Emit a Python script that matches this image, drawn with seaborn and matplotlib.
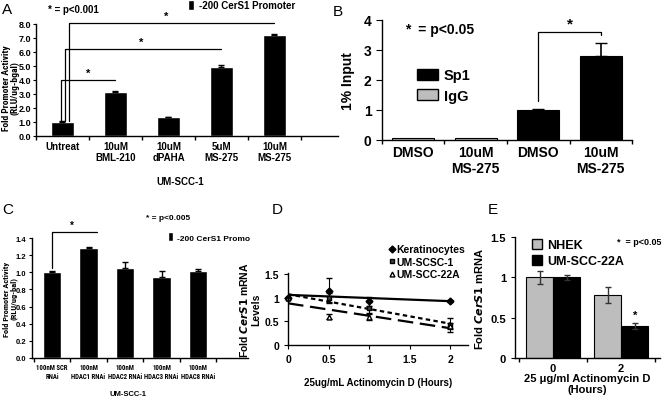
import numpy as np
import pandas as pd
import matplotlib
matplotlib.use("Agg")
import matplotlib.pyplot as plt
from matplotlib import font_manager
from matplotlib.lines import Line2D
from matplotlib.patches import Patch
from matplotlib.transforms import Bbox, TransformedBbox
import seaborn as sns

# ---- data ----
# A: promoter activity after HDAC inhibitors
a_labels = ["Untreat", "10uM\nBML-210", "10uM\ndPAHA", "5uM\nMS-275", "10uM\nMS-275"]
a_values = [1.0, 3.15, 1.35, 4.95, 7.25]
a_errors = [0.05, 0.05, 0.03, 0.12, 0.05]
a_sig = [(1, 4.0), (3, 6.2), (4, 8.07)]   # (compared bar, bracket height)

# B: ChIP, Sp1 vs IgG
b_keys = ["IgG DMSO", "IgG MS-275", "Sp1 DMSO", "Sp1 MS-275"]
b_labels = ["DMSO", "10uM\nMS-275", "DMSO", "10uM\nMS-275"]
b_antibody = ["IgG", "IgG", "Sp1", "Sp1"]
b_values = [0.07, 0.07, 1.0, 2.8]
b_errors = [0.0, 0.0, 0.04, 0.42]

# C: HDAC RNAi
c_labels = ["100nM SCR\nRNAi", "100nM\nHDAC1 RNAi", "100nM\nHDAC2 RNAi",
            "100nM\nHDAC3 RNAi", "100nM\nHDAC8 RNAi"]
c_values = [1.0, 1.28, 1.05, 0.95, 1.01]
c_errors = [0.02, 0.02, 0.07, 0.06, 0.03]

# D: mRNA decay after actinomycin D
d_hours = [0, 0.5, 1, 2]
d_kera = [1.0, 1.15, 0.92, 0.93]
d_kera_err = [0.0, 0.27, 0.1, 0.02]
d_scc1 = [1.0, 1.0, 0.78, 0.42]
d_scc1_err = [0.0, 0.1, 0.12, 0.15]
d_scc22a = [1.0, 0.6, 0.6, 0.4]
d_scc22a_err = [0.0, 0.06, 0.08, 0.07]

# E: NHEK vs UM-SCC-22A
e_hours = ["0", "2"]
e_nhek = [1.0, 0.78]
e_nhek_err = [0.08, 0.1]
e_scc22a = [1.0, 0.4]
e_scc22a_err = [0.03, 0.04]

# ---- style ----
sns.set_style("ticks")
plt.rcParams['font.family'] = ['Liberation Sans', 'DejaVu Sans']
plt.rcParams['font.weight'] = 'bold'
plt.rcParams['axes.labelweight'] = 'bold'
plt.rcParams['axes.edgecolor'] = 'black'
plt.rcParams['text.color'] = 'black'
plt.rcParams['axes.labelcolor'] = 'black'
plt.rcParams['xtick.color'] = 'black'
plt.rcParams['ytick.color'] = 'black'
plt.rcParams['axes.linewidth'] = 1.0
plt.rcParams['mathtext.default'] = 'bf'


def pick_narrow():
    # look for any condensed sans face that happens to be installed
    for fam in ['Liberation Sans Narrow', 'Roboto Condensed', 'Open Sans Condensed',
                'DejaVu Sans Condensed', 'Noto Sans Condensed']:
        try:
            font_manager.findfont(font_manager.FontProperties(family=fam),
                                  fallback_to_default=False)
            return dict(family=fam)
        except ValueError:
            pass
    for fam in ['DejaVu Sans', 'Roboto', 'Noto Sans', 'Open Sans']:
        props = font_manager.FontProperties(family=fam, stretch='condensed', weight='bold')
        try:
            path = font_manager.findfont(props, fallback_to_default=False)
        except ValueError:
            continue
        if 'ondensed' in path:
            return dict(family=fam, stretch='condensed')
    return None


narrow = pick_narrow()
if narrow:
    NARROW = narrow
    c_tick_size = 4.9
else:
    NARROW = dict(family=['Liberation Sans', 'DejaVu Sans'])
    c_tick_size = 4.6

W, H = 669, 402
fig = plt.figure(figsize=(W / 100, H / 100), dpi=100)


def place(l, t, r, b):
    return fig.add_axes([l / W, 1 - b / H, (r - l) / W, (b - t) / H])


def ftext(x, y, s, **kw):
    return fig.text(x / W, 1 - y / H, s, **kw)


def between_ticks(ax, n, size):
    ax.set_xticks(np.arange(n + 1) - 0.5, minor=True)
    ax.tick_params(axis='x', which='major', length=0, labelsize=size)
    ax.tick_params(axis='x', which='minor', length=3, width=1)


def bracket(ax, x0, x1, y0, y1, drop=None):
    xs = [x0, x0, x1]
    ys = [y0, y1, y1]
    if drop is not None:
        xs.append(x1)
        ys.append(drop)
    ax.plot(xs, ys, color='black', lw=0.9, clip_on=False)


# ---- A ----
axA = place(36, 25, 338, 137)
dfA = pd.DataFrame({"treatment": a_labels, "activity": a_values})
sns.barplot(data=dfA, x="treatment", y="activity", color="black", saturation=1,
            width=0.42, errorbar=None, ax=axA)
axA.errorbar(np.arange(len(a_values)), a_values, yerr=[np.zeros(len(a_errors)), a_errors],
             fmt='none', ecolor='black', capsize=2, elinewidth=1)
axA.set_xlim(-0.5, 5.2)
axA.set_ylim(0, 8)
axA.set_yticks(np.arange(0, 8.5, 1))
axA.set_yticklabels([f"{v:.1f}" for v in np.arange(0, 8.5, 1)])
axA.tick_params(axis='y', labelsize=6.5, length=2.5, pad=1)
between_ticks(axA, len(a_values), 7)
axA.set_ylabel("Fold Promoter Activity\n(RLU/ug-bgal)", fontsize=5.8 if not narrow else 6.8,
               linespacing=0.95, **NARROW)
axA.yaxis.set_label_coords(20 / W, 1 - 88 / H, transform=fig.transFigure)
axA.set_xlabel("")
sns.despine(ax=axA)
ftext(180, 182, "UM-SCC-1", fontsize=7, ha='center', va='center')
for k, (target, height) in enumerate(a_sig):
    x0 = -0.02 + 0.075 * k
    bracket(axA, x0, target, a_values[0] + 0.05, height)
    axA.text((x0 + target) / 2 - 0.05 * k, height + 0.15, "*", ha='center', va='bottom',
             fontsize=8)
axA.legend(handles=[Patch(facecolor='black')], labels=["-200 CerS1 Promoter"],
           loc='center left', bbox_to_anchor=(183 / W, 1 - 6 / H),
           bbox_transform=fig.transFigure, frameon=False, fontsize=7,
           handlelength=0.6, handleheight=1.3, handletextpad=0.5, borderpad=0)
ftext(48, 10, "* = p<0.001", fontsize=7, va='center')
ftext(2, 10, "A", fontsize=11, va='center', fontweight='normal')

# ---- B ----
axB = place(382, 21, 632, 141)
dfB = pd.DataFrame({"condition": b_keys, "antibody": b_antibody, "input": b_values})
sns.barplot(data=dfB, x="condition", y="input", hue="antibody",
            palette={"Sp1": "black", "IgG": "#bdbdbd"}, dodge=False, width=0.67,
            edgecolor='black', linewidth=0.8, saturation=1, errorbar=None,
            legend=False, ax=axB)
axB.errorbar([2, 3], b_values[2:], yerr=[[0, 0], b_errors[2:]], fmt='none',
             ecolor='black', capsize=4, elinewidth=1.2)
axB.set_xlim(-0.45, 3.5)
axB.set_ylim(0, 4)
axB.set_yticks([0, 1, 2, 3, 4])
axB.tick_params(axis='y', labelsize=10, length=4)
between_ticks(axB, len(b_values), 10)
axB.set_xticks(range(len(b_labels)))
axB.set_xticklabels(b_labels)
axB.set_ylabel("1% Input", fontsize=10, labelpad=6)
axB.set_xlabel("")
sns.despine(ax=axB)
bracket(axB, 2, 3, 1.3, 3.6, drop=3.5)
axB.text(2.5, 3.65, "*", ha='center', va='bottom', fontsize=11)
axB.legend(handles=[Patch(facecolor='black', edgecolor='black'),
                    Patch(facecolor='#bdbdbd', edgecolor='black')],
           labels=["Sp1", "IgG"], loc='upper left',
           bbox_to_anchor=(410 / W, 1 - 62 / H), bbox_transform=fig.transFigure,
           frameon=False, fontsize=10.5, handlelength=1.4, handleheight=0.8,
           handletextpad=0.4, labelspacing=0.45, borderpad=0)
ftext(405, 30, "*  = p<0.05", fontsize=10, va='center')
ftext(333, 12, "B", fontsize=11, va='center', fontweight='normal')

# ---- C ----
axC = place(32, 239, 248, 359)
dfC = pd.DataFrame({"rnai": c_labels, "activity": c_values})
sns.barplot(data=dfC, x="rnai", y="activity", color="black", saturation=1,
            width=0.5, errorbar=None, ax=axC)
axC.errorbar(np.arange(len(c_values)), c_values, yerr=[np.zeros(len(c_errors)), c_errors],
             fmt='none', ecolor='black', capsize=2, elinewidth=1)
axC.set_xlim(-0.55, 5.37)
axC.set_ylim(0, 1.4)
axC.set_yticks(np.arange(0, 1.45, 0.2))
axC.set_yticklabels([f"{v:.1f}" for v in np.arange(0, 1.45, 0.2)])
axC.tick_params(axis='y', labelsize=5.5, length=2.5, pad=1.5)
between_ticks(axC, len(c_values), c_tick_size)
for lab in axC.get_xticklabels():
    lab.set_family(NARROW['family'])
    if 'stretch' in NARROW:
        lab.set_stretch(NARROW['stretch'])
axC.set_ylabel("Fold Promoter Activity\n(RLU/ug-bal)", fontsize=6, linespacing=0.95,
               **NARROW)
axC.yaxis.set_label_coords(17 / W, 1 - 299 / H, transform=fig.transFigure)
axC.set_xlabel("")
sns.despine(ax=axC)
ftext(128, 395, "UM-SCC-1", fontsize=5.5, ha='center', va='center')
bracket(axC, 0, 1.23, c_values[0] + 0.05, 1.47)
axC.text(0.55, 1.5, "*", ha='center', va='bottom', fontsize=7)
ftext(146, 219, "* = p<0.005", fontsize=6, va='center')
clip = TransformedBbox(Bbox([[0, 0], [250 / W, 1]]), fig.transFigure)
axC.legend(handles=[Patch(facecolor='black')], labels=["-200 CerS1 Promoter"],
           loc='center left', bbox_to_anchor=(164 / W, 1 - 238 / H),
           bbox_transform=fig.transFigure, frameon=False, fontsize=6,
           handlelength=0.6, handleheight=1.3, handletextpad=0.5, borderpad=0)
for t in axC.get_legend().get_texts():
    t.set_clip_box(clip)
    t.set_clip_on(True)
ftext(2, 210, "C", fontsize=11, va='center', fontweight='normal')

# ---- D ----
axD = place(288, 274, 468, 346)
series_d = [
    ("Keratinocytes", d_kera, d_kera_err, 'D', 'black', '-'),
    ("UM-SCSC-1", d_scc1, d_scc1_err, 's', '#404040', (0, (2, 1.5))),
    ("UM-SCC-22A", d_scc22a, d_scc22a_err, '^', 'white', (0, (7, 3))),
]
handles = []
for name, vals, errs, mk, fc, ls in series_d:
    axD.errorbar(d_hours, vals, yerr=errs, fmt=mk, ms=3.5, mfc=fc, mec='black',
                 ecolor='black', capsize=2, elinewidth=0.8, clip_on=False)
    sns.regplot(x=np.array(d_hours), y=np.array(vals), scatter=False, ci=None,
                ax=axD, line_kws=dict(color='black', lw=1.6, linestyle=ls))
    handles.append(Line2D([], [], marker=mk, ms=3.5, mfc=fc, mec='black',
                          linestyle='none'))
axD.set_xlim(0, 2.22)
axD.set_ylim(0, 1.52)
axD.set_xticks([0, 0.5, 1, 1.5, 2])
axD.set_xticklabels(["0", "0.5", "1", "1.5", "2"])
axD.set_yticks([0, 0.5, 1, 1.5])
axD.set_yticklabels(["0", "0.5", "1", "1.5"])
axD.tick_params(labelsize=7.5, length=3)
axD.set_ylabel("Fold $\\it{CerS1}$ mRNA\nLevels", fontsize=7.5, labelpad=2)
axD.set_xlabel("25ug/mL Actinomycin D (Hours)", fontsize=7, labelpad=9)
sns.despine(ax=axD)
axD.legend(handles=handles, labels=[s[0] for s in series_d], loc='upper left',
           bbox_to_anchor=(384 / W, 1 - 240 / H), bbox_transform=fig.transFigure,
           frameon=False, fontsize=7.5, handlelength=0.5, handletextpad=0.2,
           labelspacing=0.25, borderpad=0)
ftext(272, 210, "D", fontsize=11, va='center', fontweight='normal')

# ---- E ----
axE = place(515, 238, 660, 359)
dfE = pd.DataFrame({
    "hours": e_hours * 2,
    "cell": ["NHEK"] * len(e_hours) + ["UM-SCC-22A"] * len(e_hours),
    "fold": e_nhek + e_scc22a,
})
sns.barplot(data=dfE, x="hours", y="fold", hue="cell",
            palette={"NHEK": "#bdbdbd", "UM-SCC-22A": "black"}, width=0.8,
            edgecolor='black', linewidth=0.8, saturation=1, errorbar=None,
            legend=False, ax=axE)
for cont, errs in zip(axE.containers, [e_nhek_err, e_scc22a_err]):
    xs = [p.get_x() + p.get_width() / 2 for p in cont.patches]
    ys = [p.get_height() for p in cont.patches]
    axE.errorbar(xs, ys, yerr=errs, fmt='none', ecolor='#333333', capsize=2.5,
                 elinewidth=1)
axE.set_xlim(-0.56, 1.57)
axE.set_ylim(0, 1.5)
axE.set_yticks([0, 0.5, 1, 1.5])
axE.set_yticklabels(["0", "0.5", "1", "1.5"])
axE.tick_params(axis='y', labelsize=8, length=3)
between_ticks(axE, len(e_hours), 8)
axE.set_ylabel("Fold $\\it{CerS1}$ mRNA", fontsize=8, labelpad=4)
axE.set_xlabel("25 μg/ml Actinomycin D\n(Hours)", fontsize=8, labelpad=0)
sns.despine(ax=axE)
star_bar = axE.containers[1].patches[1]
axE.text(star_bar.get_x() + star_bar.get_width() / 2, e_scc22a[1] + 0.07, "*",
         ha='center', va='bottom', fontsize=8)
axE.legend(handles=[Patch(facecolor='#bdbdbd', edgecolor='black'),
                    Patch(facecolor='black', edgecolor='black')],
           labels=["NHEK", "UM-SCC-22A"], loc='upper left',
           bbox_to_anchor=(526 / W, 1 - 234 / H), bbox_transform=fig.transFigure,
           frameon=False, fontsize=9, handlelength=0.8, handleheight=0.8,
           handletextpad=0.4, labelspacing=0.3, borderpad=0)
ftext(617, 243, "*  = p<0.05", fontsize=6.5, va='center')
ftext(488, 210, "E", fontsize=11, va='center', fontweight='normal')

fig.savefig("out.png", dpi=100)
